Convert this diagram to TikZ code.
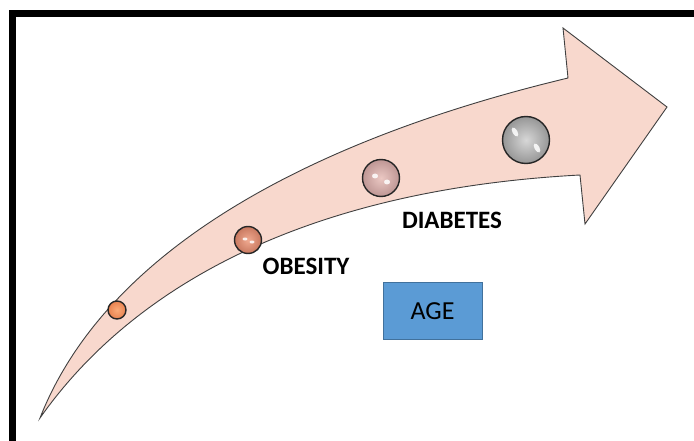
\documentclass[tikz,border=0pt]{standalone}
\usepackage{fontspec}
\setmainfont{Carlito}
\begin{document}
\begin{tikzpicture}[x=1pt,y=-1pt,
  ball/.style={circle,draw=black!85,line width=1.4pt,inner sep=0pt,shading=radial},
  lbl/.style={font=\fontsize{25}{28}\selectfont\bfseries,inner sep=0pt},
  hl/.style={fill=white,opacity=0.85}]
\useasboundingbox (0,0) rectangle (694,441);
\clip (0,0) rectangle (694,441);
\fill[white] (0,0) rectangle (694,441);
\draw[line width=7.5pt] (12.5,13.5) rectangle (720,470);
% curved arrow
\coordinate (tail) at (40,418);
\coordinate (su) at (568,78);
\coordinate (hu) at (563,28);
\coordinate (tip) at (667,107);
\coordinate (hl) at (585,224);
\coordinate (sl) at (580,175);
\filldraw[fill={rgb,255:red,248;green,216;blue,205},draw=black!75,line width=0.9pt,line join=miter]
  (tail) .. controls (110,240) and (330,135) .. (su) -- (hu) -- (tip) -- (hl) -- (sl)
  .. controls (300,190) and (130,290) .. (tail) -- cycle;
% balls
\node[ball,minimum size=18pt,inner color={rgb,255:red,250;green,170;blue,120},outer color={rgb,255:red,232;green,130;blue,80}] (b1) at (117,310) {};
\node[ball,minimum size=27pt,inner color={rgb,255:red,240;green,170;blue,145},outer color={rgb,255:red,200;green,120;blue,95}] (b2) at (248,240) {};
\node[ball,minimum size=37pt,inner color={rgb,255:red,235;green,200;blue,195},outer color={rgb,255:red,190;green,150;blue,148}] (b3) at (381,178) {};
\node[ball,minimum size=47pt,inner color={rgb,255:red,215;green,215;blue,215},outer color={rgb,255:red,150;green,150;blue,150}] (b4) at (526,140) {};
% highlights
\fill[hl] (245,239) ellipse (2.5pt and 1.5pt);
\fill[hl] (252,242) ellipse (2.5pt and 1.5pt);
\fill[hl] (375,176) ellipse (3pt and 2.5pt);
\fill[hl] (387,182) ellipse (3pt and 2.5pt);
\fill[hl,rotate around={-60:(515,132)}] (515,132) ellipse (5pt and 2.5pt);
\fill[hl,rotate around={-60:(537,148)}] (537,148) ellipse (5pt and 2.5pt);
% labels
\node[lbl] (obes) at (306,266) {OBESITY};
\node[lbl] (diab) at (452,220) {DIABETES};
\node[draw={rgb,255:red,65;green,113;blue,156},line width=0.8pt,fill={rgb,255:red,91;green,155;blue,213},
  minimum width=99pt,minimum height=57pt,inner sep=0pt,font=\fontsize{26}{30}\selectfont] (age) at (432.5,311) {AGE};
\end{tikzpicture}
\end{document}
